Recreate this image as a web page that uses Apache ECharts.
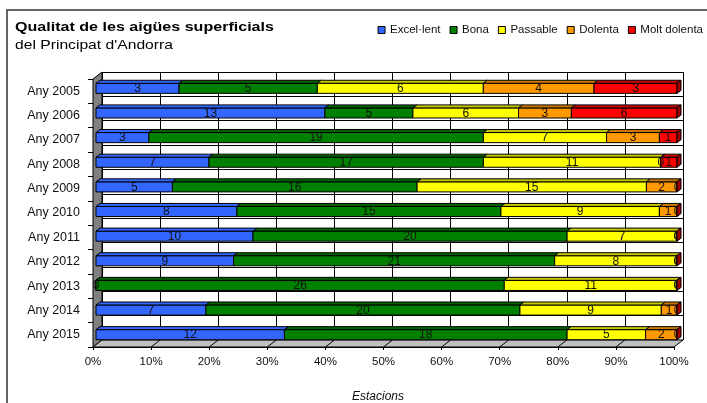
<!DOCTYPE html>
<html>
<head>
<meta charset="utf-8">
<script src="https://cdn.jsdelivr.net/npm/echarts@6/dist/echarts.min.js"></script>
<style>
  html, body { margin: 0; padding: 0; background: #fff; }
  #chart { width: 707px; height: 403px; }
</style>
</head>
<body>
<div id="chart"></div>
<script>
// Stations per water-quality class, by year
const years = ['Any 2005', 'Any 2006', 'Any 2007', 'Any 2008', 'Any 2009', 'Any 2010',
               'Any 2011', 'Any 2012', 'Any 2013', 'Any 2014', 'Any 2015'];
const excellent   = [3, 13, 3, 7, 5, 8, 10, 9, 0, 7, 12];
const bona        = [5, 5, 19, 17, 16, 15, 20, 21, 26, 20, 18];
const passable    = [6, 6, 7, 11, 15, 9, 7, 8, 11, 9, 5];
const dolenta     = [4, 3, 3, 0, 2, 1, 0, 0, 0, 1, 2];
const moltDolenta = [3, 6, 1, 1, 0, 0, 0, 0, 0, 0, 0];
const classNames  = ['Excel·lent', 'Bona', 'Passable', 'Dolenta', 'Molt dolenta'];
const titleText   = 'Qualitat de les aigües superficials';
const subtitleText = "del Principat d'Andorra";
const axisTitle   = 'Estacions';

// Colours for each class: front face, top face
const palette = [
  { face: '#3366FF', top: '#3366FF' },
  { face: '#008000', top: '#006400' },
  { face: '#FFFF00', top: '#C8C800' },
  { face: '#FF9900', top: '#CC7A00' },
  { face: '#FF0000', top: '#CC0000' }
];
const capColor = '#A00000';
const FONT = '"Liberation Sans", Arial, sans-serif';

// Depth of a bar and of the plot box (pixels)
const BAR_DX = 4, BAR_DY = 3;
const BOX_DX = 9, BOX_DY = 7;
const BAR_RATIO = 0.41;

const seriesValues = [excellent, bona, passable, dolenta, moltDolenta];
const totals = years.map((_, i) => seriesValues.reduce((s, arr) => s + arr[i], 0));

// Percent-stacked segments: [start%, end%, row, count]
const segments = seriesValues.map(arr => {
  return arr.map((v, i) => {
    let before = 0;
    for (const other of seriesValues) {
      if (other === arr) break;
      before += other[i];
    }
    return [before / totals[i] * 100, (before + v) / totals[i] * 100, i, v];
  });
});

function barRenderer(colors) {
  return function (params, api) {
    const start = api.value(0), end = api.value(1), row = api.value(2);
    const p0 = api.coord([start, row]);
    const p1 = api.coord([end, row]);
    const h = api.size([0, 1])[1] * BAR_RATIO;
    const x0 = p0[0], x1 = p1[0];
    const yT = p0[1] - h / 2, yB = p0[1] + h / 2;
    return {
      type: 'group',
      children: [
        { type: 'polygon', shape: { points: [[x0, yT], [x1, yT], [x1, yB], [x0, yB]] },
          style: { fill: colors.face, stroke: '#000', lineWidth: 1 } },
        { type: 'polygon', shape: { points: [[x0, yT], [x1, yT], [x1 + BAR_DX, yT - BAR_DY], [x0 + BAR_DX, yT - BAR_DY]] },
          style: { fill: colors.top, stroke: '#000', lineWidth: 1 } }
      ]
    };
  };
}

function labelRenderer(params, api) {
  const mid = (api.value(0) + api.value(1)) / 2;
  const p = api.coord([mid, api.value(2)]);
  return {
    type: 'text',
    style: {
      text: String(api.value(3)), x: p[0], y: p[1] + 0.5,
      align: 'center', verticalAlign: 'middle',
      fontSize: 12, fontFamily: FONT, fill: '#111'
    }
  };
}

function capRenderer(params, api) {
  const p = api.coord([api.value(0), api.value(1)]);
  const h = api.size([0, 1])[1] * BAR_RATIO;
  const x = p[0], yT = p[1] - h / 2, yB = p[1] + h / 2;
  return {
    type: 'polygon',
    shape: { points: [[x, yT], [x + BAR_DX, yT - BAR_DY], [x + BAR_DX, yB - BAR_DY], [x, yB]] },
    style: { fill: capColor, stroke: '#000', lineWidth: 1 }
  };
}

// Left wall, floor and floor grid lines drawn from the back plane
function boxRenderer(params) {
  const r = params.coordSys;
  const L = r.x, R = r.x + r.width, T = r.y, B = r.y + r.height;
  const children = [];
  children.push({ type: 'polygon',
    shape: { points: [[L, T], [L, B], [L - BOX_DX, B + BOX_DY], [L - BOX_DX, T + BOX_DY]] },
    style: { fill: '#808080', stroke: '#000', lineWidth: 1 } });
  children.push({ type: 'polygon',
    shape: { points: [[L, B], [R, B], [R - BOX_DX, B + BOX_DY], [L - BOX_DX, B + BOX_DY]] },
    style: { fill: '#C0C0C0', stroke: '#000', lineWidth: 1 } });
  for (let k = 1; k < 10; k++) {
    const x = L + r.width * k / 10;
    children.push({ type: 'line', shape: { x1: x, y1: B, x2: x - BOX_DX, y2: B + BOX_DY },
      style: { stroke: '#000', lineWidth: 1 } });
  }
  return { type: 'group', children };
}

const chart = echarts.init(document.getElementById('chart'), null, { renderer: 'canvas' });

const series = [];
series.push({
  type: 'custom', name: 'box', xAxisIndex: 1, yAxisIndex: 1, z: 1, silent: true,
  renderItem: boxRenderer, data: [[0, 0]]
});
classNames.forEach((name, s) => {
  series.push({
    type: 'custom', name: name, xAxisIndex: 0, yAxisIndex: 0, z: 2,
    itemStyle: { color: palette[s].face },
    renderItem: barRenderer(palette[s]),
    encode: { x: [0, 1], y: 2 },
    data: segments[s]
  });
});
series.push({
  type: 'custom', name: 'values', xAxisIndex: 0, yAxisIndex: 0, z: 3, silent: true,
  renderItem: labelRenderer, encode: { x: [0, 1], y: 2 },
  data: [].concat(...segments)
});
series.push({
  type: 'custom', name: 'ends', xAxisIndex: 0, yAxisIndex: 0, z: 4, silent: true,
  renderItem: capRenderer, encode: { x: 0, y: 1 },
  data: years.map((_, i) => [100, i])
});

const gridBase = { containLabel: false, outerBoundsMode: 'none' };

chart.setOption({
  animation: false,
  backgroundColor: '#fff',
  legend: {
    right: 4, top: 24, padding: 0, itemWidth: 7, itemHeight: 7, itemGap: 9,
    selectedMode: false,
    textStyle: { fontSize: 11.5, color: '#111', fontFamily: FONT },
    data: classNames.map((n, s) => ({
      name: n, icon: 'rect',
      itemStyle: { color: palette[s].face, borderColor: '#000', borderWidth: 1 }
    }))
  },
  graphic: [
    { type: 'rect', z: 100, silent: true,
      shape: { x: 7, y: 10, width: 720, height: 420 },
      style: { fill: 'none', stroke: '#333', lineWidth: 1.5 } },
    { type: 'text', x: 15, y: 27.5, scaleX: 1.19, silent: true,
      style: { text: titleText, x: 0, y: 0, verticalAlign: 'middle',
               fontSize: 13.5, fontWeight: 'bold', fontFamily: FONT, fill: '#000' } },
    { type: 'text', x: 15, y: 45, scaleX: 1.16, silent: true,
      style: { text: subtitleText, x: 0, y: 0, verticalAlign: 'middle',
               fontSize: 13.5, fontFamily: FONT, fill: '#000' } }
  ],
  grid: [
    Object.assign({ left: 96, right: 30, top: 76, bottom: 56 }, gridBase),   // bars
    Object.assign({ left: 102, right: 24, top: 72, bottom: 63 }, gridBase),  // back wall
    Object.assign({ left: 93, right: 33, top: 79, bottom: 56 }, gridBase)    // front edge, axes
  ],
  xAxis: [
    { gridIndex: 0, type: 'value', min: 0, max: 100, show: false },
    { gridIndex: 1, type: 'value', min: 0, max: 100, interval: 10,
      axisLine: { show: false }, axisTick: { show: false }, axisLabel: { show: false },
      splitLine: { show: true, lineStyle: { color: '#000', width: 1 } } },
    { gridIndex: 2, type: 'value', min: 0, max: 100, interval: 10,
      axisLine: { show: true, lineStyle: { color: '#000' } },
      axisTick: { show: true, length: 3, lineStyle: { color: '#000' } },
      splitLine: { show: false },
      axisLabel: { formatter: '{value}%', fontSize: 11.5, color: '#111', fontFamily: FONT, margin: 9 },
      name: axisTitle, nameLocation: 'middle', nameGap: 44,
      nameTextStyle: { fontSize: 12, fontStyle: 'italic', color: '#111', fontFamily: FONT, padding: [0, 11, 0, 0] } }
  ],
  yAxis: [
    { gridIndex: 0, type: 'category', inverse: true, data: years, show: false },
    { gridIndex: 1, type: 'category', inverse: true, data: years,
      axisLine: { show: false }, axisTick: { show: false }, axisLabel: { show: false },
      splitLine: { show: true, lineStyle: { color: '#000', width: 1 } } },
    { gridIndex: 2, type: 'category', inverse: true, data: years,
      axisLine: { show: false },
      axisTick: { show: true, length: 5, lineStyle: { color: '#000' } },
      axisLabel: { fontSize: 12.5, color: '#111', fontFamily: FONT, margin: 13 } }
  ],
  series: series
});
</script>
</body>
</html>
